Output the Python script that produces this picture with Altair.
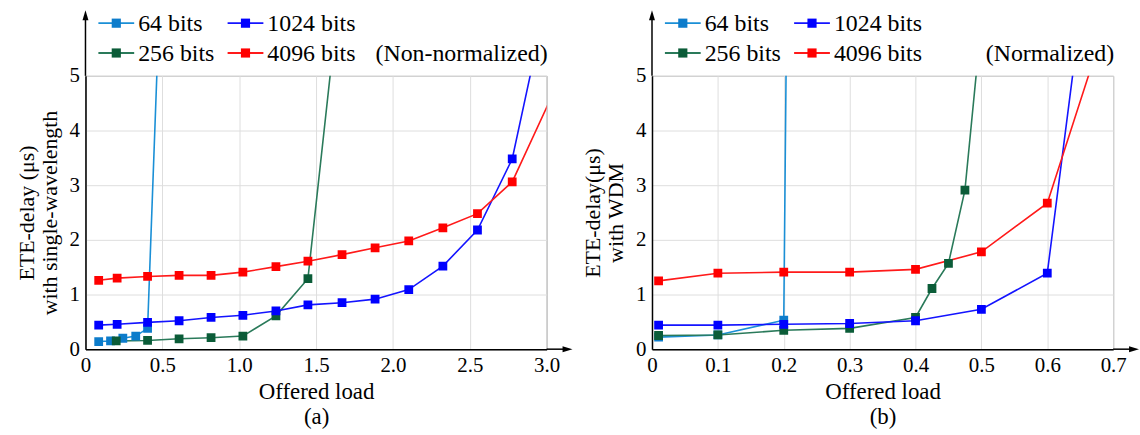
import altair as alt
import pandas as pd

# Series names and their colours (line / square marker)
SERIES = ["64 bits", "256 bits", "1024 bits", "4096 bits"]
LINE_COLORS = ["#1a8fd6", "#2a7a5a", "#1414ff", "#ff1a1a"]
MARK_COLORS = ["#0d7ccb", "#0b5c38", "#0000ff", "#ff0000"]

# (a) single wavelength, non-normalized offered load
load_a_64 = [0.086, 0.163, 0.243, 0.327, 0.404, 0.49]
delay_a_64 = [0.14, 0.15, 0.20, 0.24, 0.38, 7.0]
load_a_256 = [0.20, 0.404, 0.609, 0.817, 1.024, 1.239, 1.447, 1.669]
delay_a_256 = [0.15, 0.16, 0.19, 0.21, 0.24, 0.61, 1.29, 7.0]
load_a_1024 = [0.086, 0.206, 0.404, 0.609, 0.817, 1.024, 1.239, 1.447,
               1.669, 1.884, 2.103, 2.325, 2.55, 2.776, 3.0]
delay_a_1024 = [0.44, 0.455, 0.49, 0.52, 0.58, 0.62, 0.70, 0.81,
                0.85, 0.915, 1.09, 1.52, 2.18, 3.48, 6.4]
load_a_4096 = [0.086, 0.206, 0.404, 0.609, 0.817, 1.024, 1.239, 1.447,
               1.669, 1.884, 2.103, 2.325, 2.55, 2.776, 3.21]
delay_a_4096 = [1.26, 1.30, 1.33, 1.35, 1.35, 1.41, 1.51, 1.61,
                1.73, 1.855, 1.98, 2.22, 2.48, 3.06, 5.7]

# (b) WDM, normalized offered load
load_b_64 = [0.01, 0.1, 0.2, 0.21]
delay_b_64 = [0.22, 0.26, 0.53, 13.5]
load_b_256 = [0.01, 0.1, 0.2, 0.3, 0.4, 0.425, 0.45, 0.475, 0.5]
delay_b_256 = [0.25, 0.26, 0.345, 0.38, 0.58, 1.11, 1.57, 2.91, 6.0]
load_b_1024 = [0.01, 0.1, 0.2, 0.3, 0.4, 0.5, 0.6, 0.7]
delay_b_1024 = [0.44, 0.44, 0.455, 0.47, 0.52, 0.73, 1.39, 10.8]
load_b_4096 = [0.01, 0.1, 0.2, 0.3, 0.4, 0.5, 0.6, 0.7]
delay_b_4096 = [1.25, 1.39, 1.41, 1.41, 1.46, 1.78, 2.67, 6.4]

x_ticks_a = [0, 0.5, 1.0, 1.5, 2.0, 2.5, 3.0]
x_ticks_b = [0, 0.1, 0.2, 0.3, 0.4, 0.5, 0.6, 0.7]
y_ticks = [0, 1, 2, 3, 4, 5]

FONT = "Times New Roman, Liberation Serif, DejaVu Serif, serif"
W, H = 464, 275


def frame(loads, delays):
    rows = []
    for name, xs, ys in zip(SERIES, loads, delays):
        for x, y in zip(xs, ys):
            rows.append({"series": name, "load": x, "delay": y})
    return pd.DataFrame(rows)


one = pd.DataFrame({"k": [0]})


def legend_item(i, x0, y0):
    base = alt.Chart(one)
    line = base.mark_rule(stroke=LINE_COLORS[i], strokeWidth=1.8).encode(
        x=alt.value(x0), x2=alt.value(x0 + 36), y=alt.value(y0))
    sq = base.mark_square(size=85, fill=MARK_COLORS[i], opacity=1, strokeWidth=0).encode(
        x=alt.value(x0 + 18), y=alt.value(y0))
    txt = base.mark_text(text=SERIES[i], align="left", baseline="middle", font=FONT,
                         fontSize=24, color="black").encode(
        x=alt.value(x0 + 40), y=alt.value(y0 + 1))
    return [line, sq, txt]


def panel(df, x_max, x_ticks, y_title, tag, note):
    x = alt.X("load:Q", scale=alt.Scale(domain=[0, x_max], nice=False),
              axis=alt.Axis(values=x_ticks, labelFlush=False,
                            labelExpr="datum.value == 0 ? '0' : format(datum.value, '.1f')",
                            title=["Offered load", tag], titleLineHeight=25,
                            titleFontSize=23, titlePadding=6, labelPadding=5))
    y = alt.Y("delay:Q", scale=alt.Scale(domain=[0, 5], nice=False),
              axis=alt.Axis(values=y_ticks, title=y_title, titleLineHeight=23,
                            titlePadding=8, labelPadding=6))
    stroke = alt.Stroke("series:N", scale=alt.Scale(domain=SERIES, range=LINE_COLORS), legend=None)
    fill = alt.Fill("series:N", scale=alt.Scale(domain=SERIES, range=MARK_COLORS), legend=None)

    lines = alt.Chart(df).mark_line(clip=True, strokeWidth=1.6).encode(
        x=x, y=y, stroke=stroke, detail="series:N", order="load:Q")
    squares = alt.Chart(df).mark_square(clip=True, size=78, opacity=1, strokeWidth=0).encode(
        x="load:Q", y="delay:Q", fill=fill)

    base = alt.Chart(one)
    y_arrow = base.mark_rule(color="black", strokeWidth=1.5).encode(
        x=alt.value(0), y=alt.value(0), y2=alt.value(-58))
    y_head = base.mark_point(shape="M0,-1L-0.6,1L0.6,1Z", size=100, filled=True,
                             color="black", opacity=1).encode(
        x=alt.value(0), y=alt.value(-61))
    x_arrow = base.mark_rule(color="black", strokeWidth=1.5).encode(
        x=alt.value(W), x2=alt.value(W + 18), y=alt.value(H))
    x_head = base.mark_point(shape="M1,0L-1,-0.6L-1,0.6Z", size=100, filled=True,
                             color="black", opacity=1).encode(
        x=alt.value(W + 21), y=alt.value(H))

    legend = []
    legend += legend_item(0, 13, -53)
    legend += legend_item(2, 143, -53)
    legend += legend_item(1, 13, -23)
    legend += legend_item(3, 143, -23)
    note_txt = base.mark_text(text=note, align="right", baseline="middle", font=FONT,
                              fontSize=24, color="black").encode(
        x=alt.value(W + 1), y=alt.value(-22))

    return alt.layer(lines, squares, y_arrow, y_head, x_arrow, x_head, *legend, note_txt).properties(
        width=W, height=H)


df_a = frame([load_a_64, load_a_256, load_a_1024, load_a_4096],
             [delay_a_64, delay_a_256, delay_a_1024, delay_a_4096])
df_b = frame([load_b_64, load_b_256, load_b_1024, load_b_4096],
             [delay_b_64, delay_b_256, delay_b_1024, delay_b_4096])

left = panel(df_a, 3.0, x_ticks_a, ["ETE-delay (μs)", "with single-wavelength"], "(a)",
             "(Non-normalized)")
right = panel(df_b, 0.7, x_ticks_b, ["ETE-delay(μs)", "with WDM"], "(b)", "(Normalized)")

chart = alt.hconcat(left, right, spacing=8).properties(
    padding={"left": 15, "top": 8, "right": 0, "bottom": 0}
).configure_axis(
    labelFont=FONT, titleFont=FONT, labelFontSize=21, titleFontSize=22,
    titleFontWeight="normal", labelColor="black", titleColor="black",
    gridColor="#dedede", gridWidth=1, domainColor="black", domainWidth=1.5,
    ticks=False
).configure_view(stroke="#808080", strokeWidth=1)

chart.save("out.html", embed_options={"renderer": "svg", "actions": False})
